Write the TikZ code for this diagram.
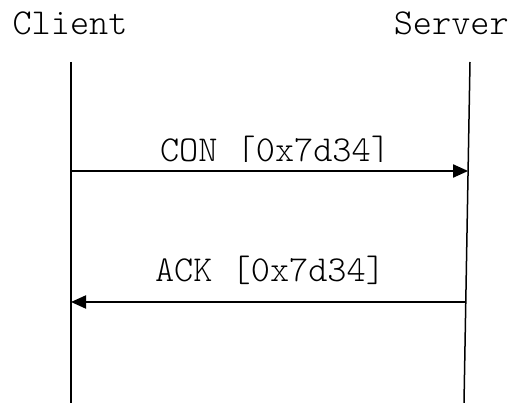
\documentclass[tikz,border=0pt]{standalone}
\usepackage{fontspec}
\setmonofont{Latin Modern Mono Light}
\usetikzlibrary{arrows.meta}
\begin{document}
\begin{tikzpicture}[x=1pt,y=-1pt,
  lbl/.style={font=\ttfamily\fontsize{36.5}{37}\selectfont, inner sep=0pt, anchor=base},
  lifeline/.style={line width=1.5pt},
  msg/.style={line width=2pt, -{Triangle[length=15pt,width=13pt]}}]
  \useasboundingbox (0,0) rectangle (514,403);
  % participants
  \node[lbl] (client) at (70,35) {Client};
  \node[lbl, anchor=base east] (server) at (509,35) {Server};
  % lifelines
  \coordinate (ctop) at (71,62);
  \coordinate (cbot) at (71,403);
  \coordinate (stop) at (470,62);
  \coordinate (sbot) at (464,403);
  \draw[lifeline] (ctop) -- (cbot);
  \draw[lifeline] (stop) -- (sbot);
  % message end points
  \coordinate (c1) at (71,171);
  \coordinate (s1) at (468.1,171);
  \coordinate (c2) at (71,302);
  \coordinate (s2) at (465.8,302);
  \draw[msg] (c1) -- (s1);
  \draw[msg] (s2) -- (c2);
  % message labels
  \begin{scope}
    \clip (0,100) rectangle (514,162);
    \node[lbl] (conlbl) at (275,162) {CON [0x7d34]};
  \end{scope}
  \node[lbl] (acklbl) at (270,282) {ACK [0x7d34]};
\end{tikzpicture}
\end{document}
